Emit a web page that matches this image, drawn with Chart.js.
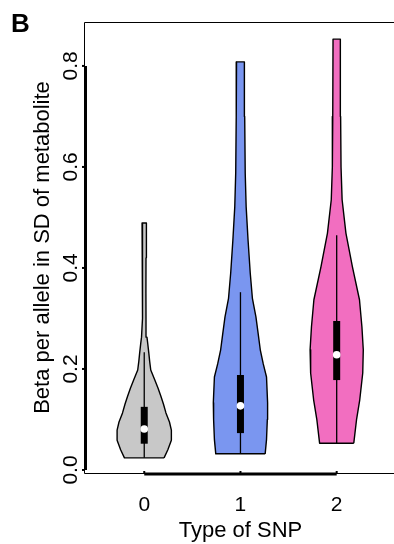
<!DOCTYPE html>
<html>
<head>
<meta charset="utf-8">
<script src="https://cdn.jsdelivr.net/npm/chart.js@4/dist/chart.umd.min.js"></script>
<style>
  html, body { margin: 0; padding: 0; background: #fff; overflow: hidden; }
  canvas { display: block; }
</style>
</head>
<body>
<canvas id="violinChart" width="394" height="544"></canvas>
<script>
// groups (type of SNP)
const categories = ['0', '1', '2'];
const positions = [0, 1, 2];

// density profiles: value levels and relative density (max = 1)
const levels0 = [0.024, 0.04, 0.059, 0.079, 0.095, 0.113, 0.13, 0.145, 0.162, 0.178, 0.198, 0.215, 0.231, 0.25, 0.263, 0.3, 0.35, 0.42, 0.489];
const density0 = [0.73, 0.87, 1.0, 1.0, 0.93, 0.80, 0.71, 0.62, 0.51, 0.39, 0.24, 0.20, 0.17, 0.13, 0.10, 0.065, 0.062, 0.065, 0.08];
const levels1 = [0.032, 0.06, 0.1, 0.133, 0.184, 0.21, 0.238, 0.271, 0.303, 0.34, 0.39, 0.455, 0.521, 0.588, 0.7, 0.808];
const density1 = [0.91, 0.96, 0.99, 1.0, 0.96, 0.84, 0.73, 0.65, 0.57, 0.44, 0.36, 0.28, 0.21, 0.175, 0.156, 0.145];
const levels2 = [0.053, 0.099, 0.139, 0.192, 0.238, 0.283, 0.337, 0.402, 0.469, 0.535, 0.6, 0.7, 0.853];
const density2 = [0.63, 0.73, 0.85, 0.96, 0.98, 0.93, 0.84, 0.58, 0.34, 0.20, 0.16, 0.145, 0.135];

// box plot summaries
const medians = [0.081, 0.127, 0.228];
const q1 = [0.052, 0.073, 0.178];
const q3 = [0.125, 0.188, 0.295];
const whiskerLow = [0.024, 0.032, 0.053];
const whiskerHigh = [0.233, 0.352, 0.465];

// axis ticks
const yTicks = [0, 0.2, 0.4, 0.6, 0.8];
const yTickLabels = ['0.0', '0.2', '0.4', '0.6', '0.8'];

const fills = ['rgb(200,200,200)', 'rgb(122,150,240)', 'rgb(242,110,192)'];
const halfWidth = 0.282; // x units for density = 1
const FONT = '"Liberation Sans", Arial, sans-serif';

const profiles = [[levels0, density0], [levels1, density1], [levels2, density2]];

function violinOutline(pos, lv, dn) {
  const right = lv.map((y, i) => ({ x: pos + dn[i] * halfWidth, y }));
  const left = lv.map((y, i) => ({ x: pos - dn[i] * halfWidth, y })).reverse();
  return right.concat(left, [right[0]]);
}

const datasets = [];
profiles.forEach(([lv, dn], i) => {
  datasets.push({
    data: violinOutline(positions[i], lv, dn),
    borderColor: '#000',
    borderWidth: 1.4,
    borderJoinStyle: 'round',
    backgroundColor: fills[i],
    fill: 'shape',
    pointRadius: 0,
    tension: 0,
    order: 3
  });
  datasets.push({
    data: [{ x: positions[i], y: whiskerLow[i] }, { x: positions[i], y: whiskerHigh[i] }],
    borderColor: '#000',
    borderWidth: 1.3,
    pointRadius: 0,
    fill: false,
    order: 2
  });
  datasets.push({
    data: [{ x: positions[i], y: q1[i] }, { x: positions[i], y: q3[i] }],
    borderColor: '#000',
    borderWidth: 7,
    borderCapStyle: 'butt',
    pointRadius: 0,
    fill: false,
    order: 1
  });
  datasets.push({
    data: [{ x: positions[i], y: medians[i] }],
    showLine: false,
    pointRadius: 3.8,
    pointBackgroundColor: '#fff',
    pointBorderWidth: 0,
    order: 0
  });
});

// frame, axes and text in R base-graphics style
const rAxes = {
  id: 'rAxes',
  afterDraw(chart) {
    const { ctx, chartArea: a, scales: { x, y } } = chart;
    ctx.save();
    ctx.strokeStyle = '#000';
    ctx.fillStyle = '#000';

    // box (right side falls outside the picture)
    ctx.lineWidth = 1;
    ctx.beginPath();
    ctx.moveTo(chart.width, a.top + 0.5);
    ctx.lineTo(a.left + 0.5, a.top + 0.5);
    ctx.lineTo(a.left + 0.5, a.bottom + 0.5);
    ctx.lineTo(chart.width, a.bottom + 0.5);
    ctx.stroke();

    // y axis
    const y0 = y.getPixelForValue(yTicks[0]);
    const y1 = y.getPixelForValue(yTicks[yTicks.length - 1]);
    ctx.lineWidth = 3;
    ctx.beginPath();
    ctx.moveTo(a.left + 1.5, y0);
    ctx.lineTo(a.left + 1.5, y1);
    ctx.stroke();
    ctx.lineWidth = 2;
    yTicks.forEach(v => {
      const py = y.getPixelForValue(v);
      ctx.beginPath();
      ctx.moveTo(a.left - 2, py);
      ctx.lineTo(a.left + 1, py);
      ctx.stroke();
    });

    // x axis
    const x0 = x.getPixelForValue(positions[0]);
    const x1 = x.getPixelForValue(positions[positions.length - 1]);
    ctx.lineWidth = 3;
    ctx.beginPath();
    ctx.moveTo(x0, a.bottom + 1);
    ctx.lineTo(x1, a.bottom + 1);
    ctx.stroke();
    ctx.lineWidth = 2;
    positions.forEach(v => {
      const px = x.getPixelForValue(v);
      ctx.beginPath();
      ctx.moveTo(px, a.bottom - 2);
      ctx.lineTo(px, a.bottom + 1);
      ctx.stroke();
    });

    // tick labels
    ctx.font = '21px ' + FONT;
    ctx.textAlign = 'center';
    ctx.textBaseline = 'alphabetic';
    yTicks.forEach((v, i) => {
      ctx.save();
      ctx.translate(a.left - 7, y.getPixelForValue(v));
      ctx.rotate(-Math.PI / 2);
      ctx.fillText(yTickLabels[i], 0, 0);
      ctx.restore();
    });
    positions.forEach((v, i) => {
      ctx.fillText(categories[i], x.getPixelForValue(v), a.bottom + 38);
    });

    // titles
    ctx.font = '22px ' + FONT;
    ctx.fillText('Type of SNP', x.getPixelForValue(1), a.bottom + 64);
    ctx.save();
    ctx.translate(49, (a.top + a.bottom) / 2);
    ctx.rotate(-Math.PI / 2);
    ctx.fillText('Beta per allele in SD of metabolite', 0, 0);
    ctx.restore();

    ctx.font = 'bold 26px ' + FONT;
    ctx.textAlign = 'left';
    ctx.fillText('B', 11, 32);
    ctx.restore();
  }
};

new Chart(document.getElementById('violinChart'), {
  type: 'line',
  data: { datasets },
  options: {
    responsive: false,
    animation: false,
    devicePixelRatio: 1,
    layout: { padding: { left: 84, top: 22, right: 0, bottom: 71 } },
    scales: {
      x: { type: 'linear', min: -0.626, max: 2.554, display: false },
      y: { type: 'linear', min: -0.006, max: 0.887, display: false }
    },
    plugins: {
      legend: { display: false },
      tooltip: { enabled: false }
    }
  },
  plugins: [rAxes]
});
</script>
</body>
</html>
